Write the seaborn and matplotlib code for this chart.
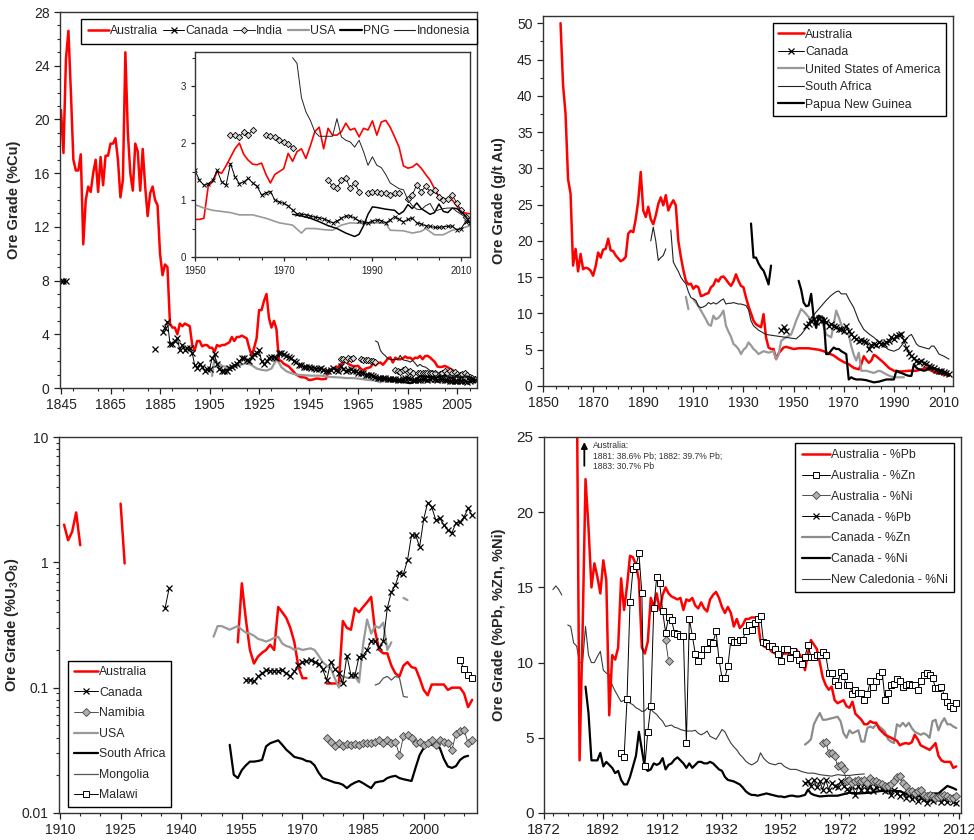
import numpy as np
import pandas as pd
import matplotlib
matplotlib.use("Agg")
import matplotlib.pyplot as plt
import seaborn as sns
from matplotlib.lines import Line2D
from matplotlib.ticker import MultipleLocator, FixedLocator, LogLocator, NullFormatter, FuncFormatter

# ---------------- DATA ----------------
# Panel A: copper ore grade (%Cu); each series = list of segments of (year, value)
AUS_CU = [[(1845, 20.7), (1846, 17.5), (1847, 24.5), (1848, 26.6), (1849, 22.0), (1850, 17.0), (1851, 16.2),
           (1852, 16.2), (1853, 17.4), (1854, 10.7), (1855, 14.0), (1856, 15.0), (1857, 14.6), (1858, 16.0),
           (1859, 17.0), (1860, 14.6), (1861, 17.2), (1862, 15.1), (1863, 17.3), (1864, 17.3), (1865, 18.2),
           (1866, 18.2), (1867, 18.6), (1868, 17.0), (1869, 14.2), (1870, 15.5), (1871, 25.0), (1872, 19.0),
           (1873, 16.0), (1874, 14.7), (1875, 18.2), (1876, 17.6), (1877, 14.7), (1878, 17.8), (1879, 15.0),
           (1880, 12.8), (1881, 14.5), (1882, 15.0), (1883, 14.0), (1884, 13.6), (1885, 10.0), (1886, 8.4),
           (1887, 9.2), (1888, 9.0), (1889, 4.8), (1890, 4.5), (1891, 4.5), (1892, 4.0), (1893, 4.8),
           (1894, 4.6), (1895, 4.8), (1896, 4.7), (1897, 4.6), (1898, 3.2), (1899, 2.8), (1900, 3.5),
           (1901, 3.5), (1902, 3.1), (1903, 3.2), (1904, 3.2), (1905, 3.0), (1906, 3.0), (1907, 2.7),
           (1908, 3.2), (1909, 3.1), (1910, 3.2), (1911, 3.2), (1912, 3.3), (1913, 3.4), (1914, 3.8),
           (1915, 3.5), (1916, 3.8), (1917, 3.8), (1918, 3.9), (1919, 3.8), (1920, 3.7), (1921, 3.0),
           (1922, 2.4), (1923, 3.0), (1924, 3.7), (1925, 5.8), (1926, 5.8), (1927, 6.5), (1928, 7.0),
           (1929, 5.2), (1930, 4.5), (1931, 5.0), (1932, 4.4), (1933, 2.1), (1934, 2.0), (1935, 1.8),
           (1936, 1.7), (1937, 1.6), (1938, 1.4), (1939, 1.2), (1940, 1.0), (1941, 0.9), (1942, 0.8),
           (1943, 0.8), (1944, 0.75), (1945, 0.6), (1946, 0.6), (1947, 0.65), (1948, 0.7), (1949, 0.7),
           (1950, 0.66), (1951, 0.66), (1952, 0.68), (1953, 1.25), (1954, 1.32), (1955, 1.5), (1956, 1.47),
           (1957, 1.6), (1958, 1.75), (1959, 1.9), (1960, 2.0), (1961, 1.8), (1962, 1.7), (1963, 1.63),
           (1964, 1.62), (1965, 1.65), (1966, 1.45), (1967, 1.3), (1968, 1.45), (1969, 1.5), (1970, 1.55),
           (1971, 1.82), (1972, 1.68), (1973, 1.85), (1974, 1.9), (1975, 1.73), (1976, 1.95), (1977, 2.2),
           (1978, 2.28), (1979, 1.9), (1980, 2.26), (1981, 2.14), (1982, 2.14), (1983, 2.2), (1984, 2.35),
           (1985, 2.23), (1986, 2.26), (1987, 2.11), (1988, 2.26), (1989, 2.23), (1990, 2.39), (1991, 2.14),
           (1992, 2.37), (1993, 2.4), (1994, 2.28), (1995, 2.11), (1996, 1.93), (1997, 1.6), (1998, 1.56),
           (1999, 1.58), (2000, 1.64), (2001, 1.56), (2002, 1.45), (2003, 1.35), (2004, 1.2), (2005, 1.06),
           (2006, 1.02), (2007, 1.01), (2008, 1.0), (2009, 0.9), (2010, 0.8), (2011, 0.77), (2012, 0.76)]]
CAN_CU = [[(1845, 8.0), (1846, 8.0), (1847, 8.0)], [(1883, 2.9)],
          [(1886, 4.2), (1887, 4.5), (1888, 4.95), (1889, 3.3), (1890, 3.3), (1891, 3.5), (1892, 3.7),
           (1893, 2.8), (1894, 3.2), (1895, 2.8), (1896, 3.0), (1897, 3.0), (1898, 2.6), (1899, 1.7),
           (1900, 1.5), (1901, 1.8), (1902, 1.6), (1903, 1.3), (1904, 1.4), (1905, 1.4), (1906, 2.2),
           (1907, 2.5), (1908, 1.8), (1909, 1.4), (1910, 1.3), (1911, 1.3), (1912, 1.3), (1913, 1.5),
           (1914, 1.6), (1915, 1.7), (1916, 1.8), (1917, 2.0), (1918, 2.2), (1919, 2.2), (1920, 2.1),
           (1921, 2.0), (1922, 2.3), (1923, 2.5), (1924, 2.6), (1925, 2.8), (1926, 2.0), (1927, 1.8),
           (1928, 2.0), (1929, 2.2), (1930, 2.3), (1931, 2.3), (1932, 2.2), (1933, 2.6), (1934, 2.6),
           (1935, 2.5), (1936, 2.4), (1937, 2.3), (1938, 2.2), (1939, 2.0), (1940, 1.9), (1941, 1.7),
           (1942, 1.7), (1943, 1.6), (1944, 1.6), (1945, 1.55), (1946, 1.5), (1947, 1.5), (1948, 1.45),
           (1949, 1.45), (1950, 1.52), (1951, 1.35), (1952, 1.26), (1953, 1.29), (1954, 1.35), (1955, 1.52),
           (1956, 1.32), (1957, 1.26), (1958, 1.64), (1959, 1.41), (1960, 1.29), (1961, 1.32), (1962, 1.38),
           (1963, 1.3), (1964, 1.24), (1965, 1.09), (1966, 1.13), (1967, 1.15), (1968, 1.0), (1969, 0.97),
           (1970, 0.94), (1971, 0.9), (1972, 0.82), (1973, 0.76), (1974, 0.75), (1975, 0.74), (1976, 0.72),
           (1977, 0.7), (1978, 0.69), (1979, 0.67), (1980, 0.64), (1981, 0.6), (1982, 0.63), (1983, 0.68),
           (1984, 0.72), (1985, 0.72), (1986, 0.68), (1987, 0.63), (1988, 0.61), (1989, 0.6), (1990, 0.63),
           (1991, 0.65), (1992, 0.64), (1993, 0.6), (1994, 0.65), (1995, 0.71), (1996, 0.66), (1997, 0.62),
           (1998, 0.66), (1999, 0.68), (2000, 0.6), (2001, 0.58), (2002, 0.55), (2003, 0.54), (2004, 0.52),
           (2005, 0.52), (2006, 0.53), (2007, 0.54), (2008, 0.54), (2009, 0.48), (2010, 0.5), (2011, 0.62),
           (2012, 0.6)]]
IND_CU = [[(1958, 2.15), (1959, 2.14), (1960, 2.11), (1961, 2.2), (1962, 2.14), (1963, 2.23)],
          [(1966, 2.14), (1967, 2.12), (1968, 2.11), (1969, 2.06), (1970, 2.02), (1971, 1.98), (1972, 1.92)],
          [(1980, 1.35), (1981, 1.24), (1982, 1.21), (1983, 1.35), (1984, 1.38), (1985, 1.21), (1986, 1.3),
           (1987, 1.15)],
          [(1989, 1.12), (1990, 1.15), (1991, 1.15), (1992, 1.13), (1993, 1.12), (1994, 1.09), (1995, 1.12),
           (1996, 1.13)],
          [(1998, 1.02), (1999, 1.09), (2000, 1.27), (2001, 1.15), (2002, 1.24), (2003, 1.15), (2004, 1.17),
           (2005, 1.06), (2006, 1.0), (2007, 1.01), (2008, 1.09), (2009, 0.95), (2010, 0.82), (2011, 0.71),
           (2012, 0.65)]]
USA_CU = [[(1906, 0.9), (1907, 2.2), (1908, 1.9), (1909, 1.8), (1910, 1.65), (1912, 1.55), (1914, 1.6),
           (1916, 1.65), (1918, 1.75), (1920, 1.85), (1922, 1.7), (1924, 1.45), (1926, 1.35), (1928, 1.3),
           (1930, 1.45), (1932, 2.1), (1933, 1.9), (1934, 1.55), (1936, 1.25), (1938, 1.1), (1940, 1.0),
           (1943, 0.95), (1946, 0.92), (1950, 0.92), (1952, 0.86), (1954, 0.82), (1956, 0.8), (1958, 0.78),
           (1960, 0.74), (1963, 0.74), (1966, 0.68), (1969, 0.6), (1972, 0.56), (1974, 0.42), (1975, 0.5),
           (1977, 0.5), (1979, 0.48), (1981, 0.47), (1983, 0.56), (1985, 0.6), (1988, 0.59), (1991, 0.6),
           (1993, 0.59), (1994, 0.47), (1997, 0.46), (1999, 0.42), (2001, 0.45), (2002, 0.5), (2004, 0.39),
           (2006, 0.39), (2008, 0.47), (2010, 0.5), (2012, 0.55)]]
PNG_CU = [[(1972, 0.75), (1974, 0.72), (1976, 0.68), (1978, 0.62), (1980, 0.55), (1982, 0.5), (1984, 0.42),
           (1986, 0.36), (1987, 0.4), (1988, 0.55), (1989, 0.75), (1990, 0.88), (1991, 0.87), (1993, 0.84),
           (1995, 0.82), (1996, 0.75), (1997, 0.8), (1998, 0.92), (1999, 0.85), (2000, 0.95), (2001, 0.85),
           (2002, 0.8), (2003, 0.75), (2004, 0.78), (2005, 0.93), (2006, 0.8), (2007, 0.78), (2008, 0.86),
           (2009, 0.85), (2010, 0.8), (2011, 0.72), (2012, 0.6)]]
IDN_CU = [[(1972, 3.5), (1973, 3.4), (1974, 2.8), (1975, 2.55), (1976, 2.4), (1977, 2.2), (1978, 2.12),
           (1979, 2.12), (1980, 2.12), (1981, 2.12), (1982, 2.43), (1983, 2.11), (1984, 2.05), (1985, 2.02),
           (1986, 1.93), (1987, 2.05), (1988, 1.85), (1989, 1.61), (1990, 1.76), (1991, 1.61), (1992, 1.57),
           (1993, 1.45), (1994, 1.3), (1995, 1.25), (1996, 1.2), (1997, 1.18), (1998, 1.0), (1999, 0.9),
           (2000, 0.84), (2001, 0.83), (2002, 0.9), (2003, 0.94), (2004, 0.8), (2005, 0.83), (2006, 0.85),
           (2007, 0.86), (2008, 0.86), (2009, 0.8), (2010, 0.75), (2011, 0.7), (2012, 0.62)]]

# Panel B: gold ore grade (g/t Au)
AUS_AU = [[(1857, 50.0), (1858, 41.5), (1859, 37.5), (1860, 28.5), (1861, 26.5), (1862, 16.6), (1863, 18.9),
           (1864, 15.8), (1865, 18.2), (1866, 16.1), (1867, 16.3), (1868, 16.2), (1869, 15.9), (1870, 15.2),
           (1871, 16.5), (1872, 18.4), (1873, 17.7), (1874, 18.8), (1875, 18.9), (1876, 20.3), (1877, 18.7),
           (1878, 18.6), (1879, 18.0), (1880, 17.6), (1881, 17.2), (1882, 17.4), (1883, 17.8), (1884, 21.0),
           (1885, 21.4), (1886, 21.2), (1887, 23.0), (1888, 25.5), (1889, 29.5), (1890, 24.2), (1891, 23.3),
           (1892, 24.7), (1893, 23.0), (1894, 22.3), (1895, 23.5), (1896, 25.1), (1897, 26.0), (1898, 24.9),
           (1899, 26.3), (1900, 24.2), (1901, 25.0), (1902, 25.6), (1903, 24.9), (1904, 20.0), (1905, 17.8),
           (1906, 16.0), (1907, 14.5), (1908, 14.0), (1909, 14.1), (1910, 13.4), (1911, 13.8), (1912, 13.6),
           (1913, 12.4), (1914, 12.5), (1915, 12.7), (1916, 12.8), (1917, 13.6), (1918, 13.9), (1919, 14.7),
           (1920, 14.4), (1921, 15.0), (1922, 15.1), (1923, 14.7), (1924, 14.2), (1925, 13.8), (1926, 14.4),
           (1927, 15.4), (1928, 14.5), (1929, 13.8), (1930, 13.6), (1931, 12.2), (1932, 11.0), (1933, 10.0),
           (1934, 9.0), (1935, 8.5), (1936, 8.3), (1937, 8.1), (1938, 9.9), (1939, 6.7), (1940, 5.3),
           (1941, 5.1), (1942, 5.1), (1943, 3.7), (1944, 4.5), (1945, 4.9), (1946, 5.3), (1947, 5.4),
           (1948, 5.3), (1949, 5.2), (1950, 5.1), (1952, 5.2), (1954, 5.2), (1956, 5.2), (1958, 5.1),
           (1960, 5.0), (1962, 4.8), (1964, 4.5), (1966, 4.2), (1968, 3.7), (1970, 3.3), (1972, 3.0),
           (1974, 2.5), (1976, 2.3), (1977, 3.0), (1978, 4.1), (1979, 3.6), (1980, 3.2), (1981, 3.5),
           (1982, 4.3), (1983, 4.1), (1984, 3.8), (1986, 3.2), (1988, 2.5), (1990, 2.1), (1993, 2.0),
           (1996, 2.1), (1999, 2.1), (2001, 2.3), (2003, 2.5), (2005, 2.1), (2007, 1.8), (2010, 1.6),
           (2012, 1.4)]]
CAN_AU = [[(1945, 7.7), (1946, 8.1), (1947, 7.6)],
          [(1955, 8.3), (1956, 8.6), (1957, 9.0), (1958, 9.2), (1959, 8.8), (1960, 9.4), (1961, 9.0),
           (1962, 9.1), (1963, 8.8), (1964, 8.3), (1965, 8.5), (1966, 8.3), (1967, 8.1), (1968, 7.8),
           (1969, 7.9), (1970, 7.6), (1971, 8.3), (1972, 7.6), (1973, 7.2), (1974, 6.7), (1975, 6.5),
           (1976, 6.2), (1977, 6.4), (1978, 6.2), (1979, 6.0), (1980, 5.1), (1981, 5.6), (1982, 5.8),
           (1983, 5.6), (1984, 6.0), (1985, 5.8), (1986, 5.8), (1987, 6.0), (1988, 6.2), (1989, 6.7),
           (1990, 6.5), (1991, 6.9), (1992, 7.0), (1993, 7.1), (1994, 6.3), (1995, 5.3), (1996, 4.6),
           (1997, 4.1), (1998, 3.8), (1999, 3.5), (2000, 3.3), (2001, 3.5), (2002, 3.2), (2003, 3.0),
           (2004, 2.8), (2005, 2.6), (2006, 2.5), (2007, 2.2), (2008, 2.1), (2009, 2.0), (2010, 1.9),
           (2011, 1.8), (2012, 1.7)]]
USA_AU = [[(1907, 12.3), (1908, 10.6)],
          [(1910, 12.0), (1911, 11.5), (1912, 11.0), (1913, 10.4), (1914, 9.8), (1915, 9.2), (1916, 8.5),
           (1917, 8.3), (1918, 9.7), (1919, 9.2), (1920, 9.4), (1921, 9.8), (1922, 10.4), (1923, 8.3),
           (1924, 7.5), (1925, 6.8), (1926, 5.8), (1927, 5.5), (1928, 5.1), (1929, 4.4), (1930, 5.0),
           (1931, 5.3), (1932, 6.0), (1933, 5.6), (1934, 5.1), (1935, 4.8), (1936, 4.4), (1937, 4.6),
           (1938, 4.8), (1939, 4.7), (1940, 4.6), (1941, 4.7), (1942, 4.8), (1943, 3.7), (1944, 4.3),
           (1945, 6.2), (1946, 6.5), (1947, 6.7), (1948, 6.9), (1949, 7.1), (1950, 8.0), (1951, 9.0),
           (1952, 9.8), (1953, 10.6), (1954, 10.3), (1955, 9.9), (1956, 9.5), (1957, 9.2), (1958, 9.3),
           (1959, 9.4), (1960, 9.3), (1961, 9.2), (1962, 8.2), (1963, 7.1), (1964, 6.9), (1965, 6.7),
           (1966, 8.5), (1967, 10.4), (1968, 9.5), (1969, 8.5), (1970, 7.4), (1971, 7.2), (1972, 7.1),
           (1973, 5.5), (1974, 4.3), (1975, 3.5), (1976, 4.6), (1977, 2.1), (1978, 2.1), (1979, 2.1),
           (1980, 2.0), (1982, 1.8), (1984, 2.1), (1985, 2.0), (1987, 1.6), (1989, 1.3), (1990, 1.2),
           (1992, 1.2), (1994, 1.2)]]
ZAF_AU = [[(1893, 20.0), (1894, 21.9), (1895, 20.0), (1896, 17.3), (1897, 17.7), (1898, 18.0), (1899, 18.9)],
          [(1901, 21.5), (1902, 17.1), (1903, 16.4), (1904, 15.8), (1905, 15.0), (1906, 14.5), (1907, 14.1),
           (1908, 13.0), (1909, 12.2), (1910, 12.0), (1911, 11.8), (1912, 11.0), (1913, 10.8), (1914, 10.9),
           (1915, 11.1), (1916, 11.5), (1917, 11.3), (1918, 11.5), (1919, 11.3), (1920, 11.5), (1921, 11.8),
           (1922, 12.0), (1923, 11.3), (1924, 11.4), (1925, 11.4), (1926, 11.5), (1927, 11.4), (1928, 11.3),
           (1929, 11.3), (1930, 11.2), (1931, 11.1), (1932, 10.5), (1933, 9.0), (1934, 8.3), (1935, 8.0),
           (1936, 7.7), (1937, 7.5), (1938, 7.3), (1939, 7.1), (1941, 7.0), (1943, 6.9), (1945, 6.8),
           (1947, 6.7), (1949, 6.6), (1951, 6.5), (1953, 7.1), (1955, 8.0), (1957, 9.3), (1959, 10.2),
           (1961, 11.0), (1963, 11.8), (1965, 12.5), (1967, 13.0), (1968, 13.1), (1969, 12.7), (1971, 12.7),
           (1972, 12.0), (1974, 10.8), (1976, 9.0), (1978, 7.8), (1980, 7.2), (1982, 6.7), (1984, 6.1),
           (1986, 5.5), (1988, 5.0), (1990, 4.8), (1992, 5.1), (1994, 6.0), (1996, 6.9), (1997, 7.1),
           (1998, 6.5), (1999, 5.8), (2000, 5.5), (2002, 5.3), (2004, 5.1), (2005, 5.5), (2006, 5.5),
           (2007, 5.0), (2008, 4.4), (2010, 4.1), (2012, 3.7)]]
PNG_AU = [[(1933, 22.4), (1934, 17.7), (1935, 17.7), (1936, 16.9), (1937, 16.3), (1938, 15.9), (1939, 15.0),
           (1940, 14.0), (1941, 16.6)],
          [(1952, 14.5), (1953, 13.3), (1954, 11.5), (1955, 11.0), (1956, 11.1), (1957, 12.7), (1958, 9.5),
           (1959, 8.0), (1960, 9.7), (1961, 9.5), (1962, 9.4), (1963, 4.4), (1964, 4.4), (1965, 4.9),
           (1966, 5.3), (1967, 5.1), (1968, 5.1), (1969, 4.8), (1970, 4.6), (1971, 4.4), (1972, 0.9),
           (1973, 1.2), (1974, 1.0), (1975, 0.9), (1977, 0.9), (1979, 0.8), (1981, 0.6), (1982, 0.5),
           (1984, 0.6), (1985, 0.7), (1987, 0.9), (1989, 0.9), (1990, 0.9), (1991, 2.1), (1992, 1.9),
           (1993, 1.8), (1995, 1.5), (1996, 1.4), (1997, 1.4), (1998, 3.0), (1999, 2.5), (2000, 2.3),
           (2001, 2.2), (2002, 2.1), (2003, 2.2), (2004, 2.5), (2005, 2.4), (2007, 2.3), (2009, 2.1),
           (2011, 1.8), (2012, 1.6)]]

# Panel C: uranium ore grade (%U3O8), log scale
AUS_U = [[(1911, 2.0), (1912, 1.5), (1913, 1.75), (1914, 2.5), (1915, 1.37)],
         [(1925, 2.94), (1926, 0.98)],
         [(1954, 0.23), (1955, 0.68), (1956, 0.35), (1957, 0.2), (1958, 0.156), (1959, 0.177), (1960, 0.19),
          (1961, 0.2), (1962, 0.22), (1963, 0.2), (1964, 0.44), (1965, 0.4), (1966, 0.36), (1967, 0.3),
          (1968, 0.23), (1969, 0.147), (1970, 0.119), (1971, 0.119)],
         [(1976, 0.108), (1977, 0.108), (1978, 0.108), (1979, 0.108), (1980, 0.34), (1981, 0.3), (1982, 0.29),
          (1983, 0.43), (1984, 0.4), (1985, 0.44), (1986, 0.48), (1987, 0.53), (1988, 0.28), (1989, 0.2),
          (1990, 0.188), (1991, 0.188), (1992, 0.15), (1993, 0.13), (1994, 0.123), (1995, 0.15), (1996, 0.16),
          (1997, 0.146), (1998, 0.143), (1999, 0.119), (2000, 0.096), (2001, 0.087), (2002, 0.106),
          (2003, 0.106), (2004, 0.106), (2005, 0.106), (2006, 0.096), (2007, 0.1), (2008, 0.1), (2009, 0.1),
          (2010, 0.09), (2011, 0.07), (2012, 0.08)]]
CAN_U = [[(1936, 0.43), (1937, 0.62)],
         [(1956, 0.115), (1957, 0.115), (1958, 0.112), (1959, 0.123), (1960, 0.13), (1961, 0.138), (1962, 0.136),
          (1963, 0.136), (1964, 0.136), (1965, 0.138), (1966, 0.13), (1967, 0.123), (1968, 0.135), (1969, 0.152),
          (1970, 0.16), (1971, 0.162), (1972, 0.165), (1973, 0.16), (1974, 0.154), (1975, 0.14), (1976, 0.115),
          (1977, 0.16), (1978, 0.14), (1979, 0.13), (1980, 0.108), (1981, 0.18), (1982, 0.126), (1983, 0.126),
          (1984, 0.176), (1985, 0.18), (1986, 0.2), (1987, 0.237), (1988, 0.234), (1989, 0.21), (1990, 0.234),
          (1991, 0.43), (1992, 0.58), (1993, 0.66), (1994, 0.82), (1995, 0.81), (1996, 1.04), (1997, 1.65),
          (1998, 1.65), (1999, 1.33), (2000, 2.2), (2001, 3.0), (2002, 2.75), (2003, 2.18), (2004, 2.24),
          (2005, 1.99), (2006, 1.8), (2007, 1.72), (2008, 2.07), (2009, 2.1), (2010, 2.3), (2011, 2.7),
          (2012, 2.37)]]
NAM_U = [[(1976, 0.0396), (1977, 0.0366), (1978, 0.034), (1979, 0.036), (1980, 0.034), (1981, 0.0355),
          (1982, 0.035), (1983, 0.0355), (1984, 0.035), (1985, 0.036), (1986, 0.036), (1987, 0.036),
          (1988, 0.037), (1989, 0.038), (1990, 0.036), (1991, 0.038), (1992, 0.036), (1993, 0.037),
          (1994, 0.029), (1995, 0.041), (1996, 0.042), (1997, 0.04), (1998, 0.036), (1999, 0.037),
          (2000, 0.035), (2001, 0.036), (2002, 0.038), (2003, 0.035), (2004, 0.038), (2005, 0.037),
          (2006, 0.036), (2007, 0.032), (2008, 0.043), (2009, 0.045), (2010, 0.046), (2011, 0.036),
          (2012, 0.038)]]
USA_U = [[(1948, 0.255), (1949, 0.31), (1950, 0.31), (1951, 0.3), (1952, 0.29), (1953, 0.3), (1954, 0.31),
          (1955, 0.29), (1956, 0.275), (1957, 0.27), (1958, 0.26), (1959, 0.245), (1960, 0.24), (1961, 0.233),
          (1962, 0.24), (1963, 0.25), (1964, 0.255), (1965, 0.225), (1966, 0.215), (1967, 0.21), (1968, 0.2),
          (1969, 0.206), (1970, 0.2), (1971, 0.203), (1972, 0.206), (1973, 0.2), (1974, 0.18), (1975, 0.16),
          (1976, 0.15), (1977, 0.143), (1978, 0.119), (1979, 0.1), (1980, 0.123), (1981, 0.12), (1982, 0.12),
          (1983, 0.123), (1984, 0.11), (1985, 0.22), (1986, 0.35), (1987, 0.27), (1988, 0.31), (1989, 0.3),
          (1990, 0.33), (1991, 0.2), (1992, 0.23)],
         [(1995, 0.52), (1996, 0.5)]]
ZAF_U = [[(1952, 0.035), (1953, 0.0202), (1954, 0.019), (1955, 0.022), (1956, 0.024), (1957, 0.0257),
          (1958, 0.0257), (1959, 0.026), (1960, 0.0265), (1961, 0.034), (1962, 0.036), (1963, 0.037),
          (1964, 0.038), (1965, 0.035), (1966, 0.032), (1967, 0.03), (1968, 0.028), (1969, 0.0275),
          (1970, 0.027), (1971, 0.026), (1972, 0.0257), (1973, 0.024), (1974, 0.021), (1975, 0.019),
          (1976, 0.0185), (1977, 0.018), (1978, 0.0175), (1979, 0.0173), (1980, 0.0168), (1981, 0.0158),
          (1982, 0.0168), (1983, 0.0175), (1984, 0.018), (1985, 0.0173), (1986, 0.0165), (1987, 0.0158),
          (1988, 0.0175), (1989, 0.0178), (1990, 0.018), (1991, 0.019), (1992, 0.0195), (1993, 0.0198),
          (1994, 0.019), (1995, 0.0186), (1996, 0.0183), (1997, 0.018), (1998, 0.023), (1999, 0.029),
          (2000, 0.033), (2001, 0.036), (2002, 0.035), (2003, 0.034), (2004, 0.033), (2005, 0.027),
          (2006, 0.0235), (2007, 0.0229), (2008, 0.0237), (2009, 0.0265), (2010, 0.028), (2011, 0.0286)]]
MNG_U = [[(1988, 0.105), (1989, 0.108), (1990, 0.119), (1991, 0.123), (1992, 0.115), (1993, 0.123),
          (1994, 0.12), (1995, 0.085), (1996, 0.084)]]
MWI_U = [[(2009, 0.166), (2010, 0.14), (2011, 0.126), (2012, 0.12)]]

# Panel D: lead, zinc, nickel ore grades (%)
AUS_PB = [[(1881, 38.6), (1882, 39.7), (1883, 30.7), (1884, 3.5), (1885, 12.0), (1886, 22.2), (1887, 19.0),
           (1888, 15.0), (1889, 16.6), (1890, 15.7), (1891, 14.6), (1892, 16.8), (1893, 15.5), (1894, 6.5),
           (1895, 10.5), (1896, 10.2), (1897, 11.0), (1898, 15.6), (1899, 13.5), (1900, 15.1), (1901, 17.1),
           (1902, 17.0), (1903, 16.5), (1904, 15.5), (1905, 11.0), (1906, 10.6), (1907, 11.4), (1908, 14.3),
           (1909, 13.7), (1910, 14.6), (1911, 13.5), (1912, 14.5), (1913, 15.0), (1914, 14.6), (1915, 14.4),
           (1916, 14.3), (1917, 14.2), (1918, 14.3), (1919, 13.5), (1920, 14.2), (1921, 14.1), (1922, 14.3),
           (1923, 13.8), (1924, 13.6), (1925, 14.0), (1926, 13.6), (1927, 13.4), (1928, 14.2), (1929, 14.5),
           (1930, 14.7), (1931, 14.3), (1932, 13.7), (1933, 13.3), (1934, 13.7), (1935, 13.3), (1936, 12.4),
           (1937, 12.9), (1938, 12.3), (1939, 12.5), (1940, 12.9), (1941, 12.9), (1942, 13.0), (1943, 13.0),
           (1944, 12.9), (1945, 11.4), (1946, 11.1), (1947, 11.0), (1948, 10.9), (1949, 10.7), (1950, 10.6),
           (1952, 10.6), (1954, 10.6), (1956, 10.7), (1957, 10.9), (1958, 10.6), (1959, 10.3), (1960, 9.5),
           (1961, 10.6), (1962, 11.5), (1963, 11.2), (1964, 10.9), (1965, 10.0), (1966, 9.0), (1967, 8.5),
           (1968, 8.2), (1969, 8.4), (1970, 7.5), (1971, 7.3), (1972, 7.4), (1973, 7.5), (1974, 7.1),
           (1975, 7.0), (1976, 7.4), (1977, 6.6), (1978, 6.4), (1979, 6.2), (1980, 5.9), (1981, 5.9),
           (1982, 6.1), (1983, 6.0), (1984, 6.0), (1985, 5.6), (1986, 5.4), (1987, 5.2), (1988, 5.1),
           (1989, 5.0), (1990, 4.9), (1991, 4.8), (1992, 4.5), (1993, 4.6), (1994, 4.65), (1995, 4.6),
           (1996, 4.7), (1997, 5.2), (1998, 4.9), (1999, 4.5), (2000, 4.4), (2001, 4.3), (2002, 4.2),
           (2003, 4.4), (2004, 4.65), (2005, 3.8), (2006, 3.5), (2007, 3.4), (2008, 3.4), (2009, 3.4),
           (2010, 3.0), (2011, 3.1)]]
AUS_ZN = [[(1898, 4.0), (1899, 3.7), (1900, 7.6), (1901, 14.0), (1902, 16.2), (1903, 16.4), (1904, 17.3),
           (1905, 14.6), (1906, 3.1), (1907, 5.4), (1908, 7.1), (1909, 13.6), (1910, 15.7), (1911, 15.3),
           (1912, 13.4), (1913, 12.0), (1914, 13.0), (1915, 12.8), (1916, 12.0), (1917, 11.9), (1918, 11.8),
           (1919, 11.8), (1920, 4.65), (1921, 12.9), (1922, 11.8), (1923, 10.6), (1924, 10.1), (1925, 10.5),
           (1926, 10.9), (1927, 10.9), (1928, 11.4), (1929, 11.3), (1930, 12.1), (1931, 10.2), (1932, 9.0),
           (1933, 9.0), (1934, 9.75), (1935, 11.5), (1936, 11.4), (1937, 11.4), (1938, 11.5), (1939, 11.5),
           (1940, 12.1), (1941, 12.5), (1942, 12.2), (1943, 12.6), (1944, 12.9), (1945, 13.1), (1946, 11.4),
           (1947, 11.3), (1948, 11.1), (1949, 11.1), (1950, 10.9), (1951, 10.6), (1952, 10.1), (1953, 10.9),
           (1954, 10.9), (1955, 10.3), (1956, 10.8), (1957, 10.6), (1958, 10.2), (1959, 9.9), (1960, 10.4),
           (1961, 11.2), (1962, 10.4), (1963, 10.4), (1964, 10.5), (1965, 10.5), (1966, 10.7), (1967, 10.5),
           (1968, 9.3), (1969, 9.3), (1970, 8.75), (1971, 8.5), (1972, 9.35), (1973, 9.1), (1974, 8.5),
           (1975, 8.5), (1976, 7.9), (1977, 8.2), (1978, 8.0), (1979, 8.0), (1980, 7.5), (1981, 7.9),
           (1982, 8.75), (1983, 8.4), (1984, 8.8), (1985, 9.1), (1986, 9.4), (1987, 7.5), (1988, 8.0),
           (1989, 8.5), (1990, 8.6), (1991, 8.9), (1992, 8.75), (1993, 8.4), (1994, 8.5), (1995, 8.6),
           (1996, 8.5), (1997, 8.5), (1998, 8.2), (1999, 8.8), (2000, 9.2), (2001, 9.3), (2002, 9.2),
           (2003, 9.0), (2004, 8.3), (2005, 8.3), (2006, 8.4), (2007, 7.8), (2008, 7.4), (2009, 7.1),
           (2010, 7.0), (2011, 7.3)]]
AUS_NI = [[(1913, 11.5), (1914, 10.1)],
          [(1966, 4.65), (1967, 4.75), (1968, 4.0), (1969, 4.0), (1970, 3.8), (1971, 3.1), (1972, 3.2),
           (1973, 2.9), (1974, 2.1), (1975, 2.2), (1976, 2.0), (1977, 2.1), (1978, 2.2), (1979, 2.1),
           (1980, 2.2), (1981, 2.0), (1982, 2.3), (1983, 2.1), (1984, 2.1), (1985, 2.0), (1986, 1.9),
           (1987, 1.8), (1988, 1.8), (1989, 1.9), (1990, 2.1), (1991, 2.4), (1992, 2.45), (1993, 2.0),
           (1994, 1.8), (1995, 1.45), (1996, 1.45), (1997, 1.3), (1998, 1.45), (1999, 1.55), (2000, 1.2),
           (2001, 1.1), (2002, 1.2), (2003, 1.1), (2004, 1.0), (2005, 1.05), (2006, 1.1), (2007, 1.2),
           (2008, 1.1), (2009, 1.0), (2010, 1.0), (2011, 1.1)]]
CAN_PB = [[(1960, 2.0), (1961, 2.1), (1962, 1.8), (1963, 2.2), (1964, 1.7), (1965, 2.1), (1966, 1.55),
           (1967, 2.2), (1968, 1.55), (1969, 2.0), (1970, 1.8), (1971, 1.7), (1972, 2.1), (1973, 1.8),
           (1974, 1.6), (1975, 1.45), (1976, 1.8), (1977, 1.2), (1978, 1.8), (1979, 1.55), (1980, 1.9),
           (1981, 1.55), (1982, 1.8), (1983, 1.45), (1984, 1.7), (1985, 1.8), (1986, 1.65), (1987, 1.45),
           (1988, 1.55), (1989, 1.2), (1990, 1.55), (1991, 1.3), (1992, 1.1), (1993, 1.3), (1994, 1.0),
           (1995, 1.2), (1996, 0.9), (1997, 1.1), (1998, 0.8), (1999, 1.0), (2000, 0.9), (2001, 0.65),
           (2002, 0.9), (2003, 0.8), (2004, 1.1), (2005, 0.9), (2006, 0.75), (2007, 0.9), (2008, 0.7),
           (2009, 0.9), (2010, 0.75), (2011, 0.65)]]
CAN_ZN = [[(1960, 4.55), (1961, 4.7), (1962, 4.9), (1963, 5.9), (1964, 6.3), (1965, 6.65), (1966, 6.2),
           (1967, 6.2), (1968, 6.25), (1969, 6.3), (1970, 6.35), (1971, 6.4), (1972, 6.1), (1973, 5.3),
           (1974, 5.0), (1975, 5.5), (1976, 5.3), (1977, 5.4), (1978, 5.5), (1979, 4.75), (1980, 4.75),
           (1981, 5.65), (1982, 5.75), (1983, 5.65), (1984, 5.9), (1985, 5.75), (1986, 5.6), (1987, 5.4),
           (1988, 4.9), (1989, 4.75), (1990, 4.65), (1991, 5.9), (1992, 5.75), (1993, 6.0), (1994, 5.75),
           (1995, 6.0), (1996, 5.65), (1997, 5.4), (1998, 5.3), (1999, 5.2), (2000, 5.3), (2001, 5.2),
           (2002, 5.0), (2003, 6.1), (2004, 6.2), (2005, 5.5), (2006, 6.0), (2007, 6.3), (2008, 5.9),
           (2009, 5.9), (2010, 5.75), (2011, 5.65)]]
CAN_NI = [[(1886, 8.4), (1887, 6.65), (1888, 3.5), (1889, 3.5), (1890, 3.5), (1891, 4.0), (1892, 3.1),
           (1893, 3.4), (1894, 3.2), (1895, 3.0), (1896, 2.65), (1897, 2.8), (1898, 2.2), (1899, 1.9),
           (1900, 1.9), (1901, 2.4), (1902, 3.1), (1903, 3.8), (1904, 5.4), (1905, 4.2), (1906, 3.0),
           (1907, 2.8), (1908, 2.9), (1909, 3.3), (1910, 3.2), (1911, 3.3), (1912, 3.65), (1913, 2.9),
           (1914, 3.2), (1915, 3.3), (1916, 3.55), (1917, 3.7), (1918, 3.5), (1919, 3.3), (1920, 3.0),
           (1921, 3.3), (1922, 3.0), (1923, 3.2), (1924, 3.4), (1925, 3.4), (1926, 3.3), (1927, 3.3),
           (1928, 3.4), (1929, 3.3), (1930, 3.1), (1931, 2.9), (1932, 2.8), (1933, 2.4), (1934, 2.2),
           (1935, 2.15), (1936, 2.1), (1937, 2.0), (1938, 1.9), (1939, 1.7), (1940, 1.45), (1941, 1.3),
           (1942, 1.2), (1943, 1.2), (1944, 1.15), (1945, 1.2), (1946, 1.25), (1947, 1.3), (1948, 1.25),
           (1949, 1.2), (1950, 1.15), (1951, 1.1), (1952, 1.1), (1953, 1.05), (1954, 1.1), (1955, 1.15),
           (1956, 1.15), (1957, 1.1), (1958, 1.1), (1959, 1.15), (1960, 1.2), (1961, 1.55), (1962, 1.3),
           (1963, 1.2), (1965, 1.1), (1968, 1.15), (1971, 1.15), (1975, 1.35), (1978, 1.3), (1982, 1.35),
           (1985, 1.45), (1988, 1.5), (1992, 1.45), (1995, 1.2), (1998, 1.1), (2002, 1.3), (2005, 1.3),
           (2008, 1.8), (2010, 1.65), (2011, 1.55)]]
NCL_NI = [[(1875, 14.85), (1876, 15.1), (1877, 14.85), (1878, 14.5)],
          [(1880, 12.5), (1881, 12.4), (1882, 11.3), (1883, 11.1), (1884, 10.0), (1885, 10.0), (1886, 12.4),
           (1887, 10.5), (1888, 10.0), (1889, 10.0), (1890, 10.4), (1891, 10.75), (1892, 9.5), (1893, 9.3),
           (1894, 9.2), (1895, 8.5), (1896, 8.1), (1897, 7.75), (1898, 7.4), (1899, 7.5), (1900, 7.65),
           (1901, 7.3), (1902, 7.2), (1903, 7.0), (1904, 6.9), (1905, 6.75), (1906, 6.8), (1907, 7.0),
           (1908, 6.9), (1909, 6.7), (1910, 6.55), (1911, 6.3), (1912, 6.1), (1913, 5.75), (1914, 5.8),
           (1915, 5.85), (1916, 5.7), (1917, 5.65), (1918, 5.55), (1919, 5.5), (1920, 5.45), (1921, 5.45),
           (1922, 5.45), (1923, 5.5), (1924, 5.3), (1925, 5.2), (1926, 5.3), (1927, 5.45), (1928, 5.1),
           (1929, 5.0), (1930, 4.9), (1931, 5.2), (1932, 5.55), (1933, 5.4), (1934, 5.0), (1935, 4.65),
           (1936, 4.4), (1937, 4.2), (1938, 3.9), (1939, 3.7), (1940, 3.45), (1941, 3.3), (1942, 3.2),
           (1943, 3.3), (1944, 3.45), (1945, 4.0), (1946, 3.65), (1947, 3.45), (1948, 3.3), (1949, 3.25),
           (1950, 3.2), (1951, 3.3), (1952, 3.3), (1953, 3.1), (1954, 3.0), (1955, 2.9), (1957, 2.9),
           (1959, 2.75), (1961, 2.65), (1963, 2.65), (1965, 2.55), (1967, 2.5), (1969, 2.45), (1971, 2.55),
           (1973, 2.5), (1975, 2.5), (1977, 2.55), (1980, 2.6)]]

LEGEND_A = ["Australia", "Canada", "India", "USA", "PNG", "Indonesia"]
LEGEND_B = ["Australia", "Canada", "United States of America", "South Africa", "Papua New Guinea"]
LEGEND_C = ["Australia", "Canada", "Namibia", "USA", "South Africa", "Mongolia", "Malawi"]
LEGEND_D = ["Australia - %Pb", "Australia - %Zn", "Australia - %Ni", "Canada - %Pb", "Canada - %Zn",
            "Canada - %Ni", "New Caledonia - %Ni"]
NOTE_D = "Australia:\n1881: 38.6% Pb; 1882: 39.7% Pb;\n1883: 30.7% Pb"

# ---------------- STYLE ----------------
sns.set_style("ticks")
plt.rcParams["font.family"] = ["Liberation Sans", "DejaVu Sans"]
plt.rcParams["mathtext.fontset"] = "custom"
plt.rcParams["mathtext.rm"] = "Liberation Sans"
plt.rcParams["mathtext.bf"] = "Liberation Sans:bold"
plt.rcParams["axes.edgecolor"] = "#333333"
plt.rcParams["axes.linewidth"] = 1.0

RED = dict(color="#ff0000", linewidth=1.8)
XMK = dict(color="black", linewidth=0.7, marker="x", markersize=4.5, markeredgewidth=0.9,
           markeredgecolor="black")
IND = dict(color="black", linewidth=0.6, marker="D", markersize=3.2, markerfacecolor="#d9d9d9",
           markeredgecolor="black", markeredgewidth=0.6)
GREY = dict(color="#999999", linewidth=1.6)
THICK = dict(color="black", linewidth=1.6)
THIN = dict(color="#222222", linewidth=0.8)
NAM = dict(color="#333333", linewidth=0.6, marker="D", markersize=4.5, markerfacecolor="#b0b0b0",
           markeredgecolor="#444444", markeredgewidth=0.6)
SQ = dict(color="black", linewidth=0.7, marker="s", markersize=4.5, markerfacecolor="white",
          markeredgecolor="black", markeredgewidth=0.7)
MONG = dict(color="#555555", linewidth=0.9)
CZN = dict(color="#8c8c8c", linewidth=1.6)
NCL = dict(color="#3a3a3a", linewidth=0.8)


def frame(segments):
    rows = []
    for i, seg in enumerate(segments):
        for yr, v in seg:
            rows.append((yr, v, i))
    return pd.DataFrame(rows, columns=["year", "value", "seg"])


def draw(ax, segments, **kw):
    sns.lineplot(data=frame(segments), x="year", y="value", units="seg", estimator=None,
                 sort=False, ax=ax, legend=False, **kw)


def handle(style):
    return Line2D([], [], **style)


def finish(ax, fs=10):
    ax.set_xlabel("")
    ax.tick_params(axis="both", which="major", direction="out", length=4, width=0.9,
                   labelsize=fs, colors="#222222")
    ax.tick_params(axis="both", which="minor", direction="out", length=2.5, width=0.8)
    for s in ax.spines.values():
        s.set_visible(True)
        s.set_color("#333333")


def legend(ax, handles, labels, **kw):
    lg = ax.legend(handles, labels, frameon=True, fancybox=False, framealpha=1, edgecolor="black",
                   fontsize=8.8, numpoints=1, handletextpad=0.1, borderaxespad=0, **kw)
    lg.get_frame().set_linewidth(1.0)
    return lg


fig = plt.figure(figsize=(9.74, 8.4), dpi=100)
W, H = 974.0, 840.0


def axes_px(l, t, r, b):
    return fig.add_axes([l / W, 1 - b / H, (r - l) / W, (b - t) / H])


# ---------------- Panel A: copper ----------------
axA = axes_px(60, 12, 477, 388)
draw(axA, AUS_CU, **RED)
draw(axA, USA_CU, **GREY)
draw(axA, IND_CU, **IND)
draw(axA, PNG_CU, **THICK)
draw(axA, IDN_CU, **THIN)
draw(axA, CAN_CU, **XMK)
axA.set_xlim(1844.6, 2013)
axA.set_ylim(0, 28)
axA.xaxis.set_major_locator(FixedLocator(np.arange(1845, 2006, 20)))
axA.xaxis.set_minor_locator(MultipleLocator(10))
axA.yaxis.set_major_locator(MultipleLocator(4))
axA.yaxis.set_minor_locator(MultipleLocator(1))
axA.set_ylabel("Ore Grade (%Cu)", fontsize=10.5, fontweight="bold")
axA.yaxis.set_label_coords(-0.094, 0.5)
finish(axA)
legend(axA, [handle(RED), handle(XMK), handle(IND), handle(GREY), handle(THICK), handle(THIN)],
       LEGEND_A, loc="upper left", bbox_to_anchor=(0.05, 0.982), ncol=6, handlelength=1.75,
       columnspacing=0.38, borderpad=0.55)

# inset
axI = axes_px(195, 52, 470, 257)
ins_red = dict(RED, linewidth=1.2)
ins_x = dict(XMK, markersize=3.2, markeredgewidth=0.7)
draw(axI, AUS_CU, **ins_red)
draw(axI, USA_CU, **dict(GREY, linewidth=1.2))
draw(axI, IND_CU, **IND)
draw(axI, PNG_CU, **dict(THICK, linewidth=1.1))
draw(axI, IDN_CU, **dict(THIN, linewidth=0.7))
draw(axI, CAN_CU, **ins_x)
axI.set_xlim(1950, 2012)
axI.set_ylim(0, 3.6)
axI.xaxis.set_major_locator(FixedLocator([1950, 1970, 1990, 2010]))
axI.xaxis.set_minor_locator(MultipleLocator(5))
axI.yaxis.set_major_locator(MultipleLocator(1))
axI.yaxis.set_minor_locator(MultipleLocator(0.5))
axI.set_ylabel("")
finish(axI, fs=7)
axI.tick_params(which="major", length=3)
axI.tick_params(which="minor", length=2)

# ---------------- Panel B: gold ----------------
axB = axes_px(543, 16, 953, 386)
draw(axB, AUS_AU, **RED)
draw(axB, USA_AU, **GREY)
draw(axB, ZAF_AU, **THIN)
draw(axB, PNG_AU, **THICK)
draw(axB, CAN_AU, **XMK)
axB.set_xlim(1850, 2013.6)
axB.set_ylim(0, 51)
axB.xaxis.set_major_locator(FixedLocator(np.arange(1850, 2011, 20)))
axB.xaxis.set_minor_locator(MultipleLocator(5))
axB.yaxis.set_major_locator(MultipleLocator(5))
axB.yaxis.set_minor_locator(MultipleLocator(2.5))
axB.set_ylabel("Ore Grade (g/t Au)", fontsize=10.5, fontweight="bold")
axB.yaxis.set_label_coords(-0.09, 0.5)
finish(axB)
legend(axB, [handle(RED), handle(XMK), handle(GREY), handle(THIN), handle(THICK)], LEGEND_B,
       loc="upper right", bbox_to_anchor=(0.983, 0.981), handlelength=2.1, labelspacing=0.45,
       borderpad=0.45)

# ---------------- Panel C: uranium ----------------
axC = axes_px(59, 437, 477, 813)
draw(axC, AUS_U, **RED)
draw(axC, USA_U, **GREY)
draw(axC, MNG_U, **MONG)
draw(axC, ZAF_U, **THICK)
draw(axC, NAM_U, **NAM)
draw(axC, MWI_U, **SQ)
draw(axC, CAN_U, **XMK)
axC.set_yscale("log")
axC.set_xlim(1909.75, 2013.2)
axC.set_ylim(0.01, 10)
axC.xaxis.set_major_locator(FixedLocator(np.arange(1910, 2001, 15)))
axC.xaxis.set_minor_locator(MultipleLocator(5))
axC.yaxis.set_major_locator(LogLocator(base=10))
axC.yaxis.set_minor_locator(LogLocator(base=10, subs=np.arange(2, 10)))
axC.yaxis.set_minor_formatter(NullFormatter())
axC.yaxis.set_major_formatter(FuncFormatter(lambda v, p: f"{v:g}"))
axC.set_ylabel(r"Ore Grade (%U$_{\mathbf{3}}$O$_{\mathbf{8}}$)", fontsize=10.5, fontweight="bold")
axC.yaxis.set_label_coords(-0.091, 0.5)
finish(axC)
legend(axC, [handle(RED), handle(XMK), handle(NAM), handle(GREY), handle(THICK), handle(MONG), handle(SQ)],
       LEGEND_C, loc="lower left", bbox_to_anchor=(0.022, 0.016), handlelength=2.0, labelspacing=0.7,
       borderpad=0.45)

# ---------------- Panel D: lead / zinc / nickel ----------------
axD = axes_px(544, 437, 961, 813)
draw(axD, NCL_NI, **NCL)
draw(axD, CAN_NI, **THICK)
draw(axD, CAN_ZN, **CZN)
draw(axD, AUS_PB, **RED)
draw(axD, CAN_PB, **XMK)
draw(axD, AUS_NI, **NAM)
draw(axD, AUS_ZN, **SQ)
axD.set_xlim(1872, 2012.6)
axD.set_ylim(0, 25)
axD.xaxis.set_major_locator(FixedLocator(np.arange(1872, 2013, 20)))
axD.xaxis.set_minor_locator(MultipleLocator(5))
axD.yaxis.set_major_locator(MultipleLocator(5))
axD.set_ylabel("Ore Grade (%Pb, %Zn, %Ni)", fontsize=10.5, fontweight="bold")
axD.yaxis.set_label_coords(-0.091, 0.5)
finish(axD, fs=11)
legend(axD, [handle(RED), handle(SQ), handle(NAM), handle(XMK), handle(CZN), handle(THICK), handle(NCL)],
       LEGEND_D, loc="upper right", bbox_to_anchor=(0.983, 0.984), handlelength=2.3, labelspacing=0.72,
       borderpad=0.5)
axD.annotate("", xy=(1885.6, 24.85), xytext=(1885.6, 22.9),
             arrowprops=dict(arrowstyle="-|>", color="black", lw=1.3, mutation_scale=9))
axD.text(1888.5, 24.75, NOTE_D, fontsize=6.2, va="top", ha="left", color="#333333", linespacing=1.25)

fig.savefig("out.png", dpi=100, facecolor="white")
